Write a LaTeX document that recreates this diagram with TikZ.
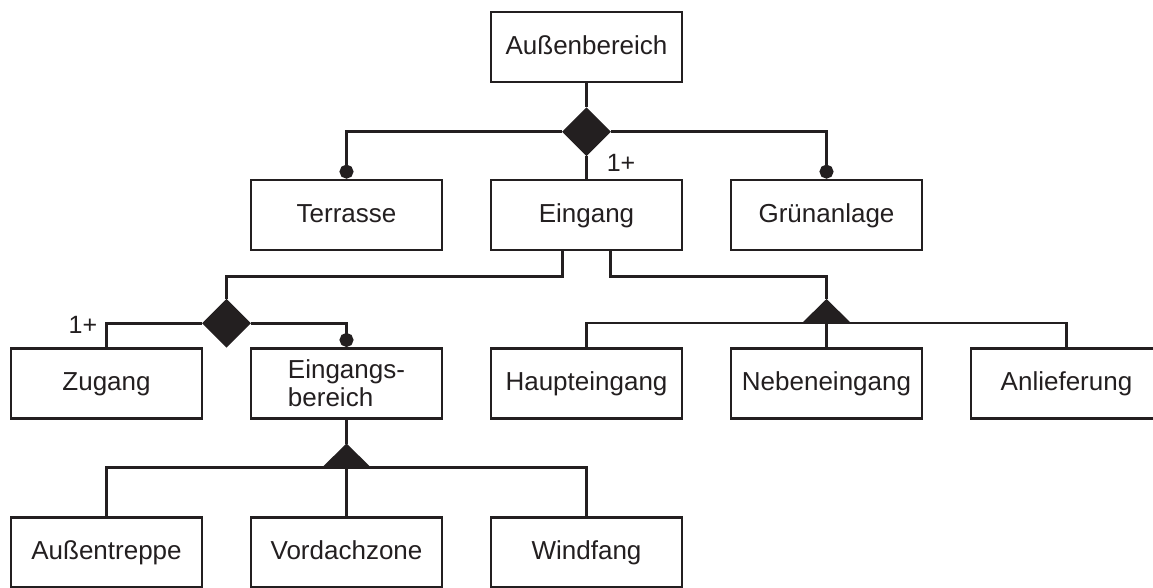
\documentclass[tikz,border=0pt]{standalone}
\usepackage{fontspec}
\setmainfont{Liberation Sans}
\usetikzlibrary{shapes.geometric,arrows.meta}
\definecolor{ink}{RGB}{35,31,32}
\begin{document}
\begin{tikzpicture}[x=1pt,y=-1pt,
  box/.style={draw=ink, line width=2.7pt, rectangle, minimum width=191pt,
    minimum height=70pt, inner sep=0pt, text=ink,
    font=\fontsize{26}{28}\selectfont},
  oneline/.style={text height=19pt, text depth=5pt},
  conn/.style={draw=ink, line width=2.7pt},
  dotend/.style={-{Circle[length=14pt]}},
  agg/.style={diamond, fill=ink, draw=none, minimum width=49pt,
    minimum height=49pt, inner sep=0pt},
  mult/.style={text=ink, inner sep=0pt, font=\fontsize{25}{27}\selectfont}]

\fill[white] (0,0) rectangle (1153,587);
\useasboundingbox (0,0) rectangle (1153,587);

% boxes
\node[box,oneline] (aussen)   at (586.5,47)    {Außenbereich};
\node[box,oneline] (terrasse) at (346.5,215)   {Terrasse};
\node[box,oneline] (eingang)  at (586.5,215)   {Eingang};
\node[box,oneline] (gruen)    at (826.5,215)   {Grünanlage};
\node[box,oneline] (zugang)   at (106.5,383.3) {Zugang};
\node[box,align=left] (eb)    at (346.5,383.3) {Eingangs-\\bereich};
\node[box,oneline] (haupt)    at (586.5,383.3) {Haupteingang};
\node[box,oneline] (neben)    at (826.5,383.3) {Nebeneingang};
\node[box,oneline] (anlief)   at (1066.5,383.3){Anlieferung};
\node[box,oneline] (treppe)   at (106.5,552.5) {Außentreppe};
\node[box,oneline] (vordach)  at (346.5,552.5) {Vordachzone};
\node[box,oneline] (windfang) at (586.5,552.5) {Windfang};

% aggregation diamonds
\node[agg] (d1) at (586.5,131.7) {};
\node[agg] (d2) at (226.5,323.3) {};

% generalisation triangles: base centre and apex
\coordinate (t1) at (826.5,323);
\coordinate (t1a) at (826.5,299);
\fill[ink] (t1) ++(-24.5,0) -- (t1a) -- ++(24.5,24) -- cycle;
\coordinate (t2) at (346.5,467.5);
\coordinate (t2a) at (346.5,443.5);
\fill[ink] (t2) ++(-24.5,0) -- (t2a) -- ++(24.5,24) -- cycle;

% multiplicities
\node[mult] (m1) at (621,163) {1+};
\node[mult] (m2) at (83,325) {1+};

% connectors
\draw[conn] (aussen.south) -- (d1.north);
\draw[conn,dotend] (d1.west) -| (terrasse.north);
\draw[conn,dotend] (d1.east) -| (gruen.north);
\draw[conn] (d1.south) -- (eingang.north);

\draw[conn] ([xshift=-24pt]eingang.south) -- ++(0,25) -| (d2.north);
\draw[conn] ([xshift=24pt]eingang.south) -- ++(0,25) -| (t1a);

\draw[conn] (d2.west) -| (zugang.north);
\draw[conn,dotend] (d2.east) -| (eb.north);

\draw[conn] (haupt.north) |- (t1);
\draw[conn] (anlief.north) |- (t1);
\draw[conn] (t1) -- (neben.north);

\draw[conn] (eb.south) -- (t2a);
\draw[conn] (treppe.north) |- (t2);
\draw[conn] (windfang.north) |- (t2);
\draw[conn] (t2) -- (vordach.north);
\end{tikzpicture}
\end{document}
